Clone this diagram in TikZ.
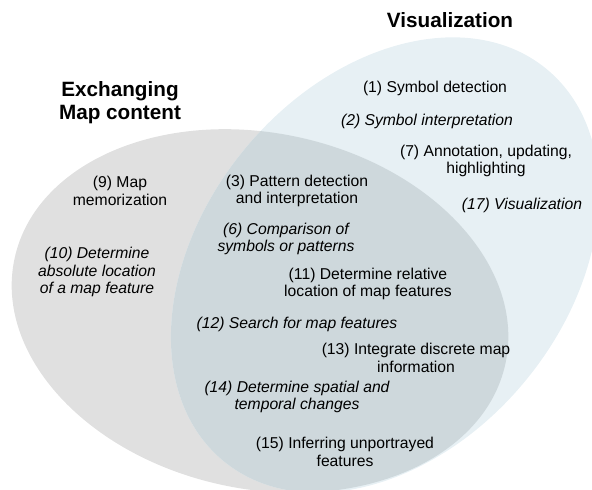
\documentclass[tikz,border=0pt]{standalone}
\usepackage{fontspec}
\setmainfont{Liberation Sans}
\begin{document}
\begin{tikzpicture}[x=1pt,y=1pt,
  lbl/.style={inner sep=0pt, yshift=-1pt, align=center, font=\fontsize{15.7}{17.7}\selectfont},
  ilbl/.style={lbl, font=\fontsize{15.7}{17.7}\selectfont\itshape},
  ttl/.style={inner sep=0pt, yshift=-1pt, align=center, font=\fontsize{20.7}{23}\selectfont\bfseries}]
\definecolor{grayfill}{RGB}{224,224,224}
\definecolor{bluefill}{RGB}{231,240,244}
\definecolor{bothfill}{RGB}{206,216,220}
\useasboundingbox (0,0) rectangle (592,-490);
\fill[grayfill] (260,-311) ellipse [x radius=251pt, y radius=178pt, rotate=-12];
\fill[bluefill] (385,-265) ellipse [x radius=254pt, y radius=182pt, rotate=50.5];
\begin{scope}
\clip (260,-311) ellipse [x radius=251pt, y radius=178pt, rotate=-12];
\fill[bothfill] (385,-265) ellipse [x radius=254pt, y radius=182pt, rotate=50.5];
\end{scope}
\node[ttl] (tvis) at (450,-19) {Visualization};
\node[ttl] (texc) at (120,-102) {Exchanging\\Map content};
\node[lbl] (n1) at (435,-87) {(1) Symbol detection};
\node[ilbl] (n2) at (427,-120) {(2) Symbol interpretation};
\node[lbl] (n7) at (486,-160) {(7) Annotation, updating,\\highlighting};
\node[ilbl] (n17) at (522,-204) {(17) Visualization};
\node[lbl] (n9) at (120,-190) {(9) Map\\memorization};
\node[lbl] (n3) at (297,-190) {(3) Pattern detection\\and interpretation};
\node[ilbl] (n6) at (286,-238) {(6) Comparison of\\symbols or patterns};
\node[ilbl] (n10) at (97,-271) {(10) Determine\\absolute location\\of a map feature};
\node[lbl] (n11) at (368,-283) {(11) Determine relative\\location of map features};
\node[ilbl] (n12) at (297,-323) {(12) Search for map features};
\node[lbl] (n13) at (416,-357) {(13) Integrate discrete map\\information};
\node[ilbl] (n14) at (297,-396) {(14) Determine spatial and\\temporal changes};
\node[lbl] (n15) at (345,-451) {(15) Inferring unportrayed\\features};
\end{tikzpicture}
\end{document}
